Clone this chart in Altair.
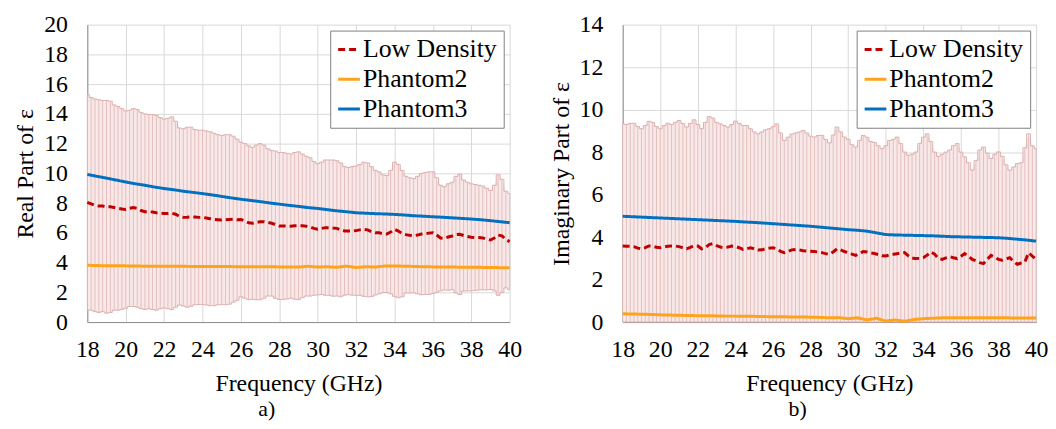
import altair as alt
import numpy as np
import pandas as pd

# ---------------- data ----------------
FREQ_START = 18.0
STEP_DENSE = 0.2   # Low Density mean + error bars
STEP_SMOOTH = 0.5  # Phantom2 / Phantom3
X_TICKS = list(range(18, 41, 2))
SERIES = ["Low Density", "Phantom2", "Phantom3"]
COLORS = ["#c00000", "#ffa31a", "#0070c0"]

# Panel a) real part
real_low_mean = [
    8.05, 7.95, 7.85, 7.8, 7.8, 7.75, 7.75, 7.7, 7.65, 7.6,
    7.57, 7.65, 7.7, 7.65, 7.5, 7.42, 7.42, 7.4, 7.35, 7.32,
    7.3, 7.3, 7.32, 7.25, 7.1, 7.04, 7.05, 7.08, 7.06, 7.04,
    7.04, 7.0, 6.95, 6.9, 6.88, 6.86, 6.88, 6.9, 6.92, 6.88,
    6.9, 6.8, 6.68, 6.64, 6.7, 6.75, 6.75, 6.7, 6.65, 6.55,
    6.46, 6.46, 6.45, 6.45, 6.47, 6.48, 6.47, 6.45, 6.4, 6.3,
    6.24, 6.3, 6.35, 6.35, 6.32, 6.3, 6.2, 6.13, 6.12, 6.13,
    6.15, 6.2, 6.24, 6.2, 6.08, 6.01, 6.0, 5.94, 5.92, 6.05,
    6.24, 6.12, 5.95, 5.88, 5.83, 5.81, 5.85, 5.92, 5.95, 5.98,
    6.01, 5.85, 5.65, 5.63, 5.72, 5.79, 5.88, 5.9, 5.82, 5.75,
    5.7, 5.69, 5.68, 5.66, 5.58, 5.52, 5.65, 5.85, 5.8, 5.55,
    5.41,
]
real_low_upper = [
    15.3, 15.1, 15.0, 14.95, 14.9, 14.9, 14.85, 14.6, 14.5, 14.35,
    14.2, 14.25, 14.35, 14.3, 14.1, 14.0, 13.95, 13.95, 13.9, 13.75,
    13.65, 13.7, 13.8, 13.5, 13.05, 13.0, 13.1, 13.1, 12.95, 12.9,
    12.9, 12.85, 12.8, 12.7, 12.6, 12.55, 12.6, 12.6, 12.5, 12.3,
    12.1, 12.0, 11.85, 11.75, 11.9, 12.0, 11.9, 11.65, 11.55, 11.5,
    11.4, 11.4, 11.35, 11.3, 11.4, 11.45, 11.3, 11.15, 11.05, 10.8,
    10.65, 10.75, 10.9, 10.9, 10.9, 10.85, 10.7, 10.45, 10.4, 10.45,
    10.5, 10.6, 10.75, 10.7, 10.45, 10.2, 10.1, 9.9, 9.85, 10.2,
    10.75, 10.6, 10.2, 9.8, 9.7, 9.65, 9.8, 10.0, 10.05, 10.1,
    10.1, 9.7, 9.2, 9.1, 9.3, 9.4, 9.8, 9.95, 9.55, 9.4,
    9.3, 9.25, 9.2, 9.15, 9.0, 8.85, 9.2, 9.9, 9.6, 8.8,
    8.65,
]
real_phantom2 = [
    3.82, 3.8, 3.79, 3.78, 3.78, 3.77, 3.76, 3.76, 3.75, 3.75,
    3.75, 3.74, 3.74, 3.74, 3.73, 3.73, 3.72, 3.72, 3.72, 3.72,
    3.71, 3.71, 3.7, 3.75, 3.7, 3.72, 3.68, 3.76, 3.67, 3.72,
    3.7, 3.77, 3.77, 3.76, 3.74, 3.72, 3.71, 3.7, 3.7, 3.69,
    3.68, 3.68, 3.67, 3.66, 3.65,
]
real_phantom3 = [
    9.93, 9.8, 9.68, 9.55, 9.42, 9.3, 9.2, 9.08, 8.98, 8.9,
    8.8, 8.72, 8.64, 8.55, 8.45, 8.35, 8.26, 8.18, 8.1, 8.01,
    7.93, 7.85, 7.78, 7.7, 7.64, 7.56, 7.48, 7.42, 7.35, 7.32,
    7.29, 7.27, 7.24, 7.2, 7.15, 7.12, 7.08, 7.05, 7.01, 6.97,
    6.93, 6.88, 6.82, 6.75, 6.68,
]

# Panel b) imaginary part
imag_low_mean = [
    3.58, 3.57, 3.57, 3.55, 3.48, 3.45, 3.5, 3.58, 3.57, 3.52,
    3.5, 3.54, 3.57, 3.58, 3.58, 3.55, 3.5, 3.45, 3.52, 3.6,
    3.58, 3.45, 3.5, 3.65, 3.69, 3.6, 3.53, 3.5, 3.53, 3.58,
    3.56, 3.5, 3.42, 3.45, 3.5, 3.45, 3.39, 3.4, 3.45, 3.48,
    3.5, 3.45, 3.33, 3.27, 3.33, 3.4, 3.42, 3.4, 3.36, 3.34,
    3.33, 3.32, 3.3, 3.27, 3.22, 3.19, 3.3, 3.45, 3.4, 3.32,
    3.27, 3.2, 3.14, 3.22, 3.32, 3.3, 3.25, 3.23, 3.18, 3.12,
    3.11, 3.17, 3.19, 3.22, 3.25, 3.27, 3.12, 3.0, 2.99, 3.0,
    3.03, 3.15, 3.3, 3.2, 3.0, 2.95, 3.02, 3.08, 3.03, 2.99,
    3.1, 3.22, 3.1, 2.95, 2.88, 2.8, 2.75, 2.95, 3.14, 3.05,
    2.95, 2.91, 2.97, 3.03, 2.85, 2.72, 2.78, 2.82, 3.27, 3.1,
    2.95,
]
imag_low_upper = [
    9.33, 9.3, 9.35, 9.36, 9.2, 9.1, 9.25, 9.45, 9.4, 9.2,
    9.1, 9.25, 9.36, 9.3, 9.4, 9.49, 9.35, 9.18, 9.35, 9.52,
    9.3, 9.1, 9.4, 9.67, 9.6, 9.4, 9.33, 9.25, 9.18, 9.3,
    9.46, 9.35, 9.25, 9.25, 9.1, 8.95, 8.86, 8.95, 9.05, 9.1,
    9.2, 9.33, 8.9, 8.55, 8.7, 8.85, 8.9, 8.95, 9.02, 8.9,
    8.75, 8.71, 8.78, 8.79, 8.6, 8.43, 8.8, 9.18, 8.95, 8.71,
    8.6, 8.35, 8.24, 8.55, 8.79, 8.7, 8.5, 8.45, 8.3, 8.16,
    8.3, 8.55, 8.6, 8.71, 8.4, 8.0, 7.85, 7.9, 8.0, 8.4,
    8.7, 8.86, 8.5, 8.0, 7.8, 7.9, 8.0, 8.1, 8.3, 8.4,
    8.0, 7.78, 7.5, 7.15, 7.6, 8.1, 8.24, 7.95, 7.7, 7.9,
    8.01, 7.8, 7.4, 7.15, 7.3, 7.46, 7.5, 8.2, 8.86, 8.3,
    8.16,
]
imag_phantom2 = [
    0.39, 0.38, 0.37, 0.36, 0.34, 0.33, 0.32, 0.31, 0.3, 0.3,
    0.29, 0.28, 0.28, 0.27, 0.27, 0.26, 0.25, 0.25, 0.24, 0.24,
    0.23, 0.22, 0.2, 0.21, 0.16, 0.2, 0.1, 0.18, 0.05, 0.1,
    0.04, 0.12, 0.16, 0.18, 0.2, 0.2, 0.2, 0.2, 0.2, 0.2,
    0.2, 0.2, 0.19, 0.19, 0.19,
]
imag_phantom3 = [
    4.98, 4.96, 4.94, 4.92, 4.9, 4.88, 4.86, 4.84, 4.82, 4.8,
    4.78, 4.76, 4.74, 4.71, 4.69, 4.66, 4.63, 4.6, 4.57, 4.54,
    4.51, 4.47, 4.43, 4.39, 4.35, 4.32, 4.28, 4.2, 4.12, 4.1,
    4.09, 4.08, 4.07, 4.06, 4.04, 4.02, 4.01, 4.0, 3.99, 3.98,
    3.97, 3.94, 3.9, 3.86, 3.81,
]

FONT = "'Liberation Serif', 'Times New Roman', Times, serif"


def dense_frame(mean, upper):
    n = min(len(mean), len(upper))
    f = np.round(FREQ_START + STEP_DENSE * np.arange(n), 2)
    m = np.array(mean[:n], dtype=float)
    u = np.array(upper[:n], dtype=float)
    lo = np.clip(2 * m - u, 0, None)  # symmetric error bars, clipped at axis
    return pd.DataFrame({"f": f, "mean": m, "upper": u, "lower": lo})


def lines_frame(mean, p2, p3):
    rows = []
    for i, v in enumerate(mean):
        rows.append({"f": round(FREQ_START + STEP_DENSE * i, 2), "v": v, "series": SERIES[0]})
    for i, v in enumerate(p2):
        rows.append({"f": round(FREQ_START + STEP_SMOOTH * i, 2), "v": v, "series": SERIES[1]})
    for i, v in enumerate(p3):
        rows.append({"f": round(FREQ_START + STEP_SMOOTH * i, 2), "v": v, "series": SERIES[2]})
    return pd.DataFrame(rows)


def panel(mean, upper, p2, p3, ymax, ytitle, caption, width):
    dense = dense_frame(mean, upper)
    lines = lines_frame(mean, p2, p3)
    xsc = alt.Scale(domain=[18, 40], nice=False)
    ysc = alt.Scale(domain=[0, ymax], nice=False)
    xax = alt.Axis(values=X_TICKS, title="Frequency (GHz)", labelPadding=16,
                   titlePadding=10, labelOverlap=False, labelFlush=False,
                   grid=True, ticks=False, labelFont=FONT, titleFont=FONT)
    yax = alt.Axis(values=list(range(0, ymax + 1, 2)), title=ytitle, labelPadding=20,
                   titlePadding=6, labelOverlap=False, grid=True, ticks=False,
                   labelFont=FONT, titleFont=FONT)

    def X():
        return alt.X("f:Q", scale=xsc, axis=xax)

    def Y(field):
        return alt.Y(field, scale=ysc, axis=yax, title=ytitle)

    base = alt.Chart(dense)
    band = base.mark_area(color="#f8e8e8").encode(
        x=X(), y=Y("lower:Q"), y2="upper:Q"
    )
    rules = base.mark_rule(color="#b86a6a", opacity=0.4, strokeWidth=0.8).encode(
        x=X(), y=Y("lower:Q"), y2="upper:Q"
    )
    top = base.mark_line(color="#dcafaf", strokeWidth=1, interpolate="step").encode(
        x=X(), y=Y("upper:Q")
    )
    bot = base.mark_line(color="#dcafaf", strokeWidth=1, interpolate="step").encode(
        x=X(), y=Y("lower:Q")
    )
    leg = alt.Legend(
        title=None, orient="top-right", offset=6, strokeColor="#7f7f7f",
        fillColor="white", padding=6, labelFont=FONT, labelFontSize=26,
        labelColor="black", symbolType="stroke", symbolSize=480,
        symbolStrokeWidth=3, rowPadding=4, labelOffset=1, labelLimit=400,
    )
    ln = alt.Chart(lines).mark_line(strokeWidth=3).encode(
        x=X(),
        y=Y("v:Q"),
        color=alt.Color("series:N", scale=alt.Scale(domain=SERIES, range=COLORS), legend=leg),
        strokeDash=alt.StrokeDash(
            "series:N",
            scale=alt.Scale(domain=SERIES, range=[[7, 4], [1, 0], [1, 0]]),
            legend=leg,
        ),
        detail="series:N",
        order="f:Q",
    )
    return alt.layer(band, rules, top, bot, ln).properties(
        width=width,
        height=300,
        title=alt.TitleParams(
            caption, orient="bottom", fontSize=22, font=FONT, fontWeight="normal",
            color="black", dx=-32, offset=4,
        ),
    )


pa = panel(real_low_mean, real_low_upper, real_phantom2, real_phantom3, 20,
           "Real Part of ε", "a)", 426)
pb = panel(imag_low_mean, imag_low_upper, imag_phantom2, imag_phantom3, 14,
           "Imaginary  Part of ε", "b)", 417)

chart = (
    alt.hconcat(pa, pb, spacing=28)
    .resolve_scale(color="independent", strokeDash="independent")
    .resolve_legend(color="independent", strokeDash="independent")
    .properties(padding={"left": 6, "top": 3, "right": 0, "bottom": 0},
                background="white")
    .configure(
        font=FONT,
        style={"guide-label": {"font": FONT}, "guide-title": {"font": FONT}},
    )
    .configure_axis(
        labelFont=FONT, labelFontSize=24, labelColor="black",
        titleFont=FONT, titleFontSize=24, titleFontWeight="normal", titleColor="black",
        gridColor="#d9d9d9", domainColor="#8c8c8c", ticks=False,
    )
    .configure_legend(labelFont=FONT)
    .configure_view(strokeWidth=0)
)

chart.save("out.html", embed_options={"renderer": "svg", "actions": False})
